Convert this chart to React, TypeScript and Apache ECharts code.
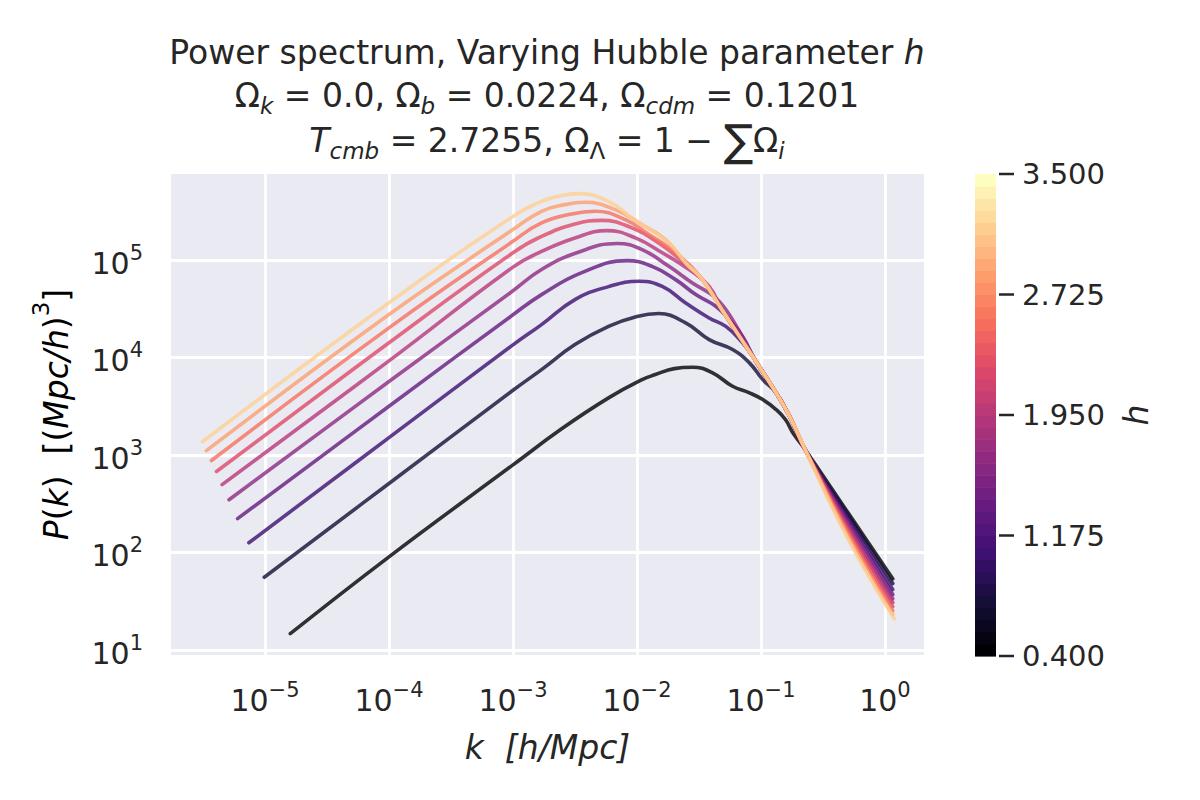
import React, { useEffect, useRef } from "react";
import * as echarts from "echarts";

// Hubble parameter of each plotted curve
const hValues = [0.4, 0.71, 1.02, 1.33, 1.64, 1.95, 2.26, 2.57, 2.88, 3.19];

// [k (h/Mpc), P(k) ((Mpc/h)^3)]
const curveH040 = [[1.6e-5, 14.7], [1e-4, 90.4], [1e-3, 793], [2.47e-3, 1860], [5.9e-3, 3860], [0.011, 5940], [0.0141, 6700], [0.02, 7710], [0.028, 7960], [0.0407, 6970], [0.059, 5080], [0.0807, 4350], [0.1035, 3710], [0.1325, 2930], [0.158, 2300], [0.183, 1650], [0.22, 1210], [0.506, 254], [1.156, 53.7]];
const curveH071 = [[9.87e-6, 55.8], [1e-4, 511], [1e-3, 4620], [1.7e-3, 7530], [3.16e-3, 13600], [5.9e-3, 20900], [0.01, 26400], [0.015, 28300], [0.0247, 22700], [0.0382, 15300], [0.059, 12100], [0.0807, 8830], [0.1035, 5940], [0.1325, 4350], [0.17, 2500], [0.231, 1090], [0.506, 239], [1.156, 48.1]];
const curveH102 = [[7.41e-6, 126], [1e-4, 1510], [1e-3, 13500], [1.7e-3, 21800], [3.16e-3, 39400], [5.9e-3, 53500], [0.01035, 60700], [0.016, 53800], [0.0247, 36400], [0.0382, 25500], [0.0521, 20900], [0.0711, 14200], [0.0859, 10300], [0.1325, 4350], [0.17, 2500], [0.231, 1090], [0.506, 223], [1.156, 41.8]];
const curveH133 = [[6.01e-6, 223], [1e-4, 3170], [1e-3, 27500], [1.7e-3, 44300], [3.59e-3, 74500], [8.32e-3, 98900], [0.01324, 86300], [0.0205, 63100], [0.0298, 44300], [0.0432, 33600], [0.0555, 24500], [0.0711, 16500], [0.0912, 9100], [0.1325, 4350], [0.17, 2500], [0.231, 1090], [0.506, 208], [1.156, 37.1]];
const curveH164 = [[5.13e-6, 348], [1e-4, 5680], [1e-3, 48500], [1.7e-3, 80000], [3.27e-3, 119000], [6.9e-3, 148000], [0.011, 128000], [0.0181, 86300], [0.028, 58300], [0.0432, 40900], [0.059, 24500], [0.0912, 9100], [0.1325, 4350], [0.17, 2500], [0.231, 1090], [0.506, 194], [1.156, 33.7]];
const curveH195 = [[4.51e-6, 498], [1e-4, 9250], [1e-3, 84700], [1.7e-3, 123000], [3.16e-3, 169000], [5.73e-3, 201000], [9.71e-3, 169000], [0.016, 119000], [0.0263, 80000], [0.0382, 53800], [0.049, 30300], [0.0912, 9100], [0.1325, 4350], [0.17, 2500], [0.231, 1090], [0.506, 180], [1.156, 30.7]];
const curveH226 = [[4.06e-6, 678], [1e-4, 14200], [1e-3, 119000], [1.7e-3, 175000], [3.16e-3, 235000], [5.21e-3, 256000], [9.12e-3, 214000], [0.015, 150000], [0.0232, 97200], [0.0337, 63100], [0.049, 30300], [0.0912, 9100], [0.1325, 4350], [0.17, 2500], [0.231, 1090], [0.506, 168], [1.156, 27.9]];
const curveH257 = [[3.7e-6, 879], [1e-4, 20200], [1e-3, 156000], [1.7e-3, 241000], [2.98e-3, 298000], [4.6e-3, 317000], [8.05e-3, 260000], [0.01247, 183000], [0.0205, 119000], [0.0337, 63100], [0.049, 30300], [0.0912, 9100], [0.1325, 4350], [0.17, 2500], [0.231, 1090], [0.506, 157], [1.156, 25.4]];
const curveH288 = [[3.37e-6, 1110], [1e-4, 27700], [1e-3, 206000], [1.7e-3, 317000], [2.62e-3, 371000], [3.82e-3, 392000], [6.68e-3, 330000], [0.011, 231000], [0.017, 162000], [0.0247, 93500], [0.0337, 63100], [0.049, 30300], [0.0912, 9100], [0.1325, 4350], [0.17, 2500], [0.231, 1090], [0.506, 146], [1.156, 23.1]];
const curveH319 = [[3.13e-6, 1370], [1e-4, 36600], [1e-3, 281000], [1.7e-3, 401000], [2.32e-3, 451000], [3.37e-3, 481000], [5.9e-3, 401000], [9.12e-3, 271000], [0.0141, 190000], [0.0193, 139000], [0.0247, 93500], [0.0337, 63100], [0.049, 30300], [0.0912, 9100], [0.1325, 4350], [0.17, 2500], [0.231, 1090], [0.506, 136], [1.19, 20.9]];

const curves = [curveH040, curveH071, curveH102, curveH133, curveH164, curveH195, curveH226, curveH257, curveH288, curveH319];

// colour bar
const hMin = 0.4;
const hMax = 3.5;
const hTickStep = 0.775;
const colorbarTicks = [0.4, 1.175, 1.95, 2.725, 3.5];
const colorbarBandCount = 40;

// axis extents
const kMin = 1.746e-6;
const kMax = 2.065;
const pMin = 8.89;
const pMax = 765000;

const MAGMA = ["#000004", "#140e36", "#3b0f70", "#641a80", "#8c2981", "#b73779", "#de4968", "#f7705c", "#fe9f6d", "#fecf92", "#fcfdbf"];

function hexToRgb(h: string) {
  return [parseInt(h.slice(1, 3), 16), parseInt(h.slice(3, 5), 16), parseInt(h.slice(5, 7), 16)];
}
function magma(t: number) {
  const tt = Math.max(0, Math.min(1, t));
  const s = tt * (MAGMA.length - 1);
  const i = Math.min(MAGMA.length - 2, Math.floor(s));
  const f = s - i;
  const a = hexToRgb(MAGMA[i]);
  const b = hexToRgb(MAGMA[i + 1]);
  const c = a.map((v, j) => Math.round(v + (b[j] - v) * f));
  return `rgb(${c[0]},${c[1]},${c[2]})`;
}

const TXT = "#262626";
const FONT = "DejaVu Sans";

const tickRich = {
  b: { fontSize: 30, lineHeight: 36, verticalAlign: "bottom", fontFamily: FONT, color: TXT },
  s: { fontSize: 21, lineHeight: 21, verticalAlign: "top", fontFamily: FONT, color: TXT },
};

function powLabel(v: number) {
  const e = Math.log10(v);
  const r = Math.round(e);
  if (Math.abs(e - r) > 1e-6) return "";
  const ex = r < 0 ? "\u2212" + String(-r) : String(r);
  return `{b|10}{s|${ex}}`;
}

const titleRich = {
  r: { fontSize: 33, lineHeight: 44, verticalAlign: "middle", fontFamily: FONT, color: TXT },
  i: { fontSize: 33, lineHeight: 44, verticalAlign: "middle", fontFamily: FONT, color: TXT, fontStyle: "italic" },
  sub: { fontSize: 23, lineHeight: 23, verticalAlign: "bottom", fontFamily: FONT, color: TXT, fontStyle: "italic" },
  subr: { fontSize: 23, lineHeight: 23, verticalAlign: "bottom", fontFamily: FONT, color: TXT },
  sum: { fontSize: 44, lineHeight: 44, verticalAlign: "middle", fontFamily: FONT, color: TXT },
};

const labelRich = {
  r: { fontSize: 33, lineHeight: 44, verticalAlign: "bottom", fontFamily: FONT, color: TXT },
  i: { fontSize: 33, lineHeight: 44, verticalAlign: "bottom", fontFamily: FONT, color: TXT, fontStyle: "italic" },
  s: { fontSize: 23, lineHeight: 23, verticalAlign: "top", fontFamily: FONT, color: TXT },
};

export default function App() {
  const ref = useRef<HTMLDivElement>(null);
  useEffect(() => {
    if (!ref.current) return;
    const chart = echarts.init(ref.current, undefined, { renderer: "svg" });

    const bandStep = (hMax - hMin) / colorbarBandCount;
    const bands = Array.from({ length: colorbarBandCount }, (_, i) => ({
      value: [hMin + i * bandStep, hMin + (i + 1) * bandStep],
      itemStyle: { color: magma(i / (colorbarBandCount - 1)) },
    }));

    const titleLine = (text: string, top: number) => ({
      text,
      left: 547,
      top,
      textAlign: "center",
      textVerticalAlign: "top",
      padding: 0,
      textStyle: { fontSize: 33, fontFamily: FONT, color: TXT, fontWeight: "normal", lineHeight: 44, rich: titleRich },
    });

    const option: any = {
      animation: false,
      backgroundColor: "#ffffff",
      title: [
        titleLine("{r|Power spectrum, Varying Hubble parameter }{i|h}", 30),
        titleLine("{r|\u03a9}{sub|k}{r| = 0.0, \u03a9}{sub|b}{r| = 0.0224, \u03a9}{sub|cdm}{r| = 0.1201}", 73),
        titleLine("{i|T}{sub|cmb}{r| = 2.7255, \u03a9}{subr|\u039b}{r| = 1 \u2212 }{sum|\u2211}{r|\u03a9}{sub|i}", 118),
      ],
      grid: [
        { left: 171, top: 174, width: 753, height: 481, show: true, backgroundColor: "#eaeaf2", borderWidth: 0 },
        { left: 975, top: 174, width: 21, height: 482, show: false },
      ],
      xAxis: [
        {
          type: "log",
          logBase: 10,
          gridIndex: 0,
          min: kMin,
          max: kMax,
          axisLine: { show: false },
          axisTick: { show: false },
          axisLabel: { margin: 24, formatter: powLabel, rich: tickRich },
          splitLine: { show: true, showMinLine: false, showMaxLine: false, lineStyle: { color: "#ffffff", width: 2.8 } },
          name: "{i|k  [h/Mpc]}",
          nameLocation: "middle",
          nameGap: 64,
          nameTextStyle: { rich: labelRich, lineHeight: 44 },
        },
        { type: "value", gridIndex: 1, min: 0, max: 1, show: false },
      ],
      yAxis: [
        {
          type: "log",
          logBase: 10,
          gridIndex: 0,
          min: pMin,
          max: pMax,
          axisLine: { show: false },
          axisTick: { show: false },
          axisLabel: { margin: 28, formatter: powLabel, rich: tickRich },
          splitLine: { show: true, showMinLine: false, showMaxLine: false, lineStyle: { color: "#ffffff", width: 2.8 } },
        },
        {
          type: "value",
          gridIndex: 1,
          position: "right",
          offset: 3,
          min: hMin,
          max: hMax,
          interval: hTickStep,
          axisLine: { show: false },
          axisTick: { show: false },
          axisLabel: { margin: 23, fontSize: 29, fontFamily: FONT, color: TXT, formatter: (v: number) => v.toFixed(3) },
          splitLine: { show: false },
        },
      ],
      graphic: [
        {
          type: "text",
          x: 51,
          y: 414.5,
          rotation: Math.PI / 2,
          style: {
            text: "{i|P}{r|(}{i|k}{r|)  [(}{i|Mpc/h}{r|)}{s|3}{r|]}",
            rich: labelRich,
            align: "center",
            verticalAlign: "middle",
          },
        },
        {
          type: "text",
          x: 1136,
          y: 415,
          rotation: Math.PI / 2,
          style: {
            text: "h",
            fontSize: 33,
            fontFamily: FONT,
            fontStyle: "italic",
            fill: TXT,
            align: "center",
            verticalAlign: "middle",
          },
        },
      ],
      series: [
        ...curves.map((data, i) => ({
          type: "line",
          name: `h = ${hValues[i]}`,
          xAxisIndex: 0,
          yAxisIndex: 0,
          data,
          symbol: "none",
          showSymbol: false,
          smooth: 0.45,
          silent: true,
          lineStyle: {
            color: magma((hValues[i] - hMin) / (hMax - hMin)),
            width: 3.6,
            opacity: 0.8,
            cap: "round",
            join: "round",
          },
        })),
        {
          type: "custom",
          xAxisIndex: 1,
          yAxisIndex: 1,
          silent: true,
          data: bands,
          renderItem: (params: any, api: any) => {
            const lo = api.value(0);
            const hi = api.value(1);
            const a = api.coord([0, lo]);
            const b = api.coord([1, hi]);
            return {
              type: "rect",
              shape: { x: a[0], y: b[1], width: b[0] - a[0], height: a[1] - b[1] + 0.6 },
              style: { fill: api.visual("color") },
            };
          },
        },
        {
          type: "custom",
          xAxisIndex: 1,
          yAxisIndex: 1,
          silent: true,
          clip: false,
          data: colorbarTicks.map((v) => [1, v]),
          renderItem: (params: any, api: any) => {
            const p = api.coord([1, api.value(1)]);
            return {
              type: "line",
              shape: { x1: p[0] + 3, y1: p[1], x2: p[0] + 18, y2: p[1] },
              style: { stroke: TXT, lineWidth: 2.5 },
            };
          },
        },
      ],
    };
    chart.setOption(option);
    return () => chart.dispose();
  }, []);
  return <div ref={ref} style={{ position: "absolute", left: 0, top: 0, width: 1200, height: 800 }} />;
}
